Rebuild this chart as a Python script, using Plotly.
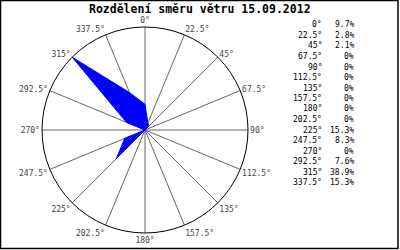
import plotly.graph_objects as go

angles = [0, 22.5, 45, 67.5, 90, 112.5, 135, 157.5, 180, 202.5, 225, 247.5, 270, 292.5, 315, 337.5]
angle_labels = ["0°", "22.5°", "45°", "67.5°", "90°", "112.5°", "135°", "157.5°", "180°",
                "202.5°", "225°", "247.5°", "270°", "292.5°", "315°", "337.5°"]
values = [9.7, 2.8, 2.1, 0, 0, 0, 0, 0, 0, 0, 15.3, 8.3, 0, 7.6, 38.9, 15.3]
value_labels = ["9.7%", "2.8%", "2.1%", "0%", "0%", "0%", "0%", "0%", "0%", "0%",
                "15.3%", "8.3%", "0%", "7.6%", "38.9%", "15.3%"]
title = "Rozdělení směru větru 15.09.2012"

W, H = 400, 250
mono = "DejaVu Sans Mono"

fig = go.Figure()
fig.add_trace(go.Scatterpolar(
    r=values + [values[0]],
    theta=angles + [angles[0]],
    mode="lines",
    fill="toself",
    fillcolor="#0000ff",
    line=dict(color="#0000ff", width=1),
    hoverinfo="skip",
))

cx, cy, R = 145, 130, 103
fig.update_layout(
    width=W, height=H,
    margin=dict(l=0, r=0, t=0, b=0),
    paper_bgcolor="white",
    plot_bgcolor="white",
    showlegend=False,
    polar=dict(
        domain=dict(x=[(cx - R) / W, (cx + R) / W], y=[1 - (cy + R) / H, 1 - (cy - R) / H]),
        bgcolor="white",
        angularaxis=dict(
            rotation=90, direction="clockwise",
            tickmode="array", tickvals=angles, ticktext=angle_labels,
            showgrid=True, gridcolor="#666666", gridwidth=1,
            showline=True, linecolor="black", linewidth=1,
            ticks="", tickfont=dict(family=mono, size=8, color="#444444"),
        ),
        radialaxis=dict(
            range=[0, 38.9], showticklabels=False, showgrid=False,
            showline=False, ticks="",
        ),
    ),
)

annotations = [dict(
    text="<b>" + title + "</b>", x=200 / W, y=1 - 8.5 / H, xref="paper", yref="paper",
    xanchor="center", yanchor="middle", showarrow=False,
    font=dict(family=mono, size=11.5, color="black"),
)]
for i, (a, v) in enumerate(zip(angle_labels, value_labels)):
    yy = 1 - (25 + 10.5 * i) / H
    annotations.append(dict(text=a, x=324 / W, y=yy, xref="paper", yref="paper",
                            xanchor="right", yanchor="middle", showarrow=False,
                            font=dict(family=mono, size=8, color="black")))
    annotations.append(dict(text=v, x=356 / W, y=yy, xref="paper", yref="paper",
                            xanchor="right", yanchor="middle", showarrow=False,
                            font=dict(family=mono, size=8, color="black")))
fig.update_layout(annotations=annotations)

fig.add_shape(type="rect", xref="paper", yref="paper",
              x0=0.5 / W, x1=398 / W, y0=1 - 248.5 / H, y1=1 - 0.5 / H,
              line=dict(color="black", width=1.5), fillcolor="rgba(0,0,0,0)")

fig.write_html("out.html")
